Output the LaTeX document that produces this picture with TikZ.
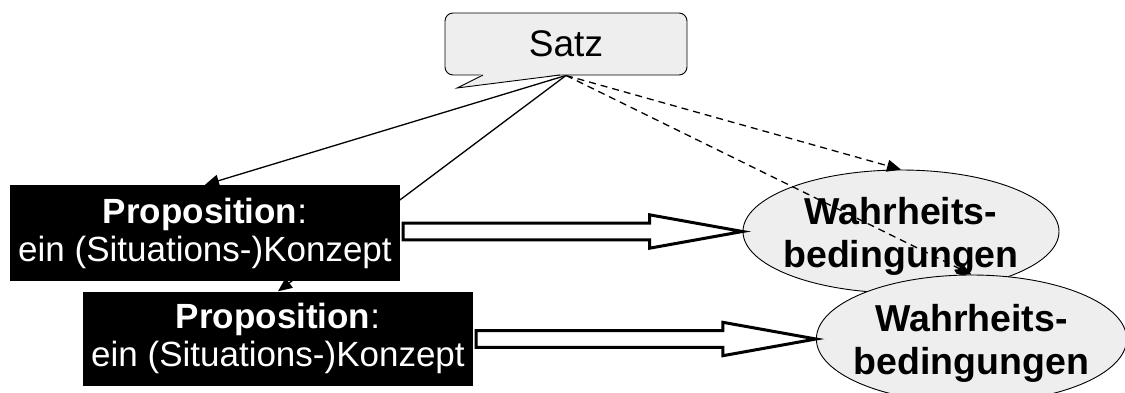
\documentclass[tikz,border=0pt]{standalone}
\usepackage{fontspec}
\setmainfont{Liberation Sans}
\usetikzlibrary{arrows.meta,shapes.geometric,calc}
\definecolor{boxgray}{HTML}{EEEEEE}
\pgfdeclarelayer{bg}
\pgfdeclarelayer{mid}
\pgfsetlayers{bg,mid,main}
\begin{document}
\begin{tikzpicture}[x=1pt,y=-1pt,
  propbox/.style={rectangle, fill=black, text=white, inner sep=0pt,
    minimum width=390pt, minimum height=96pt, align=center,
    font=\fontsize{35}{38}\selectfont},
  wbox/.style={ellipse, draw=black, line width=0.9pt, fill=boxgray,
    inner xsep=-8pt, inner ysep=0pt, minimum width=316pt, minimum height=123pt,
    align=center, font=\fontsize{37.5}{43}\selectfont\bfseries,
    text height=78pt, text depth=7pt},
  callout/.style={rectangle, rounded corners=8pt, draw=black, line width=0.9pt,
    fill=boxgray, minimum width=242pt, minimum height=62pt, inner sep=0pt,
    font=\fontsize{37}{40}\selectfont},
  conn/.style={draw=black, line width=1.3pt, -{Triangle[length=14pt,width=12pt]}},
  dconn/.style={conn, dash pattern=on 7pt off 5pt},
  blockarrow/.style={draw=black, line width=3pt, fill=white, line join=miter}
]
\useasboundingbox (0,0) rectangle (1125,392);

% Satz callout
\node[callout] (satz) at (566,44) {Satz};
\fill[boxgray] (482,74.2) -- (457,88) -- (561,74.2) -- cycle;
\draw[line width=0.9pt, line join=miter] (483,75) -- (457,88) -- (560,75);

% propositions
\node[propbox] (p1) at (205,233) {\textbf{Proposition}:\\ein (Situations-)Konzept};
\node[propbox, minimum height=94pt] (p2) at (278,338.5) {\textbf{Proposition}:\\ein (Situations-)Konzept};

% truth conditions
\begin{pgfonlayer}{bg}
\node[wbox] (w1) at (901,231.5) {Wahrheits-\\bedingungen};
\end{pgfonlayer}
\node[wbox, minimum width=309pt, minimum height=128pt] (w2) at (971.5,339) {Wahrheits-\\bedingungen};

% connectors from Satz
\begin{pgfonlayer}{bg}
\draw[conn] (satz.south) -- (p1.north);
\draw[conn] (satz.south) -- (p2.north);
\end{pgfonlayer}
\begin{pgfonlayer}{mid}
\draw[dconn] (satz.south) -- (w1.north);
\draw[dconn] (satz.south) -- (w2.north);
\end{pgfonlayer}

% block arrows
\draw[blockarrow] ($(p1.east |- w1.west)+(3,-8.3)$) -- ($(w1.west)+(-93,-8.3)$)
  -- ($(w1.west)+(-93,-16.7)$) -- (w1.west) -- ($(w1.west)+(-93,16.7)$)
  -- ($(w1.west)+(-93,8.3)$) -- ($(p1.east |- w1.west)+(3,8.3)$) -- cycle;
\draw[blockarrow] ($(p2.east |- w2.west)+(3,-8.3)$) -- ($(w2.west)+(-93,-8.3)$)
  -- ($(w2.west)+(-93,-16.7)$) -- (w2.west) -- ($(w2.west)+(-93,16.7)$)
  -- ($(w2.west)+(-93,8.3)$) -- ($(p2.east |- w2.west)+(3,8.3)$) -- cycle;
\end{tikzpicture}
\end{document}
